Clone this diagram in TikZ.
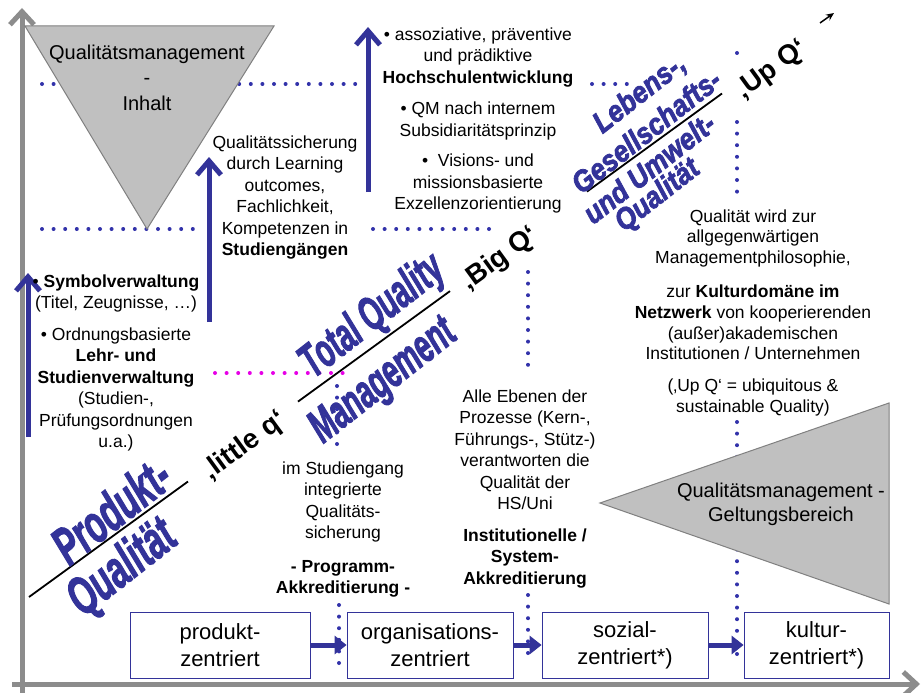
\documentclass[tikz,border=0pt]{standalone}
\usepackage{fontspec}
\usepackage{graphicx}
\setmainfont{Liberation Sans}
\newfontfamily\heavyfont{Liberation Sans Bold Italic}[FakeBold=2.5]
\usetikzlibrary{arrows.meta}
\definecolor{qblue}{RGB}{51,51,153}
\definecolor{dotblue}{RGB}{50,50,170}
\definecolor{axgray}{RGB}{140,140,140}
\definecolor{trigray}{RGB}{192,192,192}
\definecolor{trigrayd}{RGB}{128,128,128}
\definecolor{mag}{RGB}{230,0,230}
\begin{document}
\begin{tikzpicture}[x=1pt,y=-1pt,
  body/.style={align=center, anchor=north, inner sep=0pt, font=\fontsize{17.5}{21.5}\selectfont},
  bodyf/.style={align=center, anchor=north, inner sep=0pt, font=\fontsize{17.5}{20.8}\selectfont},
  tritext/.style={align=center, anchor=north, inner sep=0pt, font=\fontsize{20}{25.5}\selectfont},
  boxnode/.style={draw=qblue, line width=0.8pt, minimum height=66pt, inner sep=0pt, align=center, font=\fontsize{22}{27}\selectfont},
  dotline/.style={dotblue, line width=4pt, line cap=round, dash pattern=on 0pt off 11.6pt},
  uparrow/.style={qblue, line width=5pt, -{Straight Barb[length=14pt,width=24pt]}},
  axis/.style={axgray, line width=5pt, -{Straight Barb[length=13pt,width=24pt]}},
  boxarrow/.style={qblue, line width=5pt, -{Triangle[length=12pt,width=18pt]}},
  tri/.style={fill=trigray, draw=trigrayd, line width=1pt},
  diag/.style={black, line width=1.8pt},
  qlabel/.style={rotate=36, inner sep=0pt, font=\fontsize{27.5}{27.5}\selectfont\bfseries},
  bigq/.style={rotate=38, inner sep=0pt, text=qblue},
]
\useasboundingbox[fill=white] (0,0) rectangle (921,693);

% dotted guide lines
\draw[dotline] (42,84) -- (362,84);
\draw[dotline] (592,84) -- (628,84);
\draw[dotline] (42,229) -- (200,229);
\draw[dotline] (373,229) -- (495,229);
\fill[dotblue] (737,53) circle (2pt);
\draw[dotline] (737,122) -- (737,193);
\draw[dotline] (528,272) -- (528,375);
\draw[dotline] (528,595) -- (528,663);
\draw[dotline] (339,605) -- (339,663);
\draw[dotline] (737,422) -- (737,663);
\draw[dotline] (337,386) -- (337,445);
\draw[dotline, mag] (215,373) -- (343,373);

% axes
\coordinate (vb) at (22,693);
\coordinate (vt) at (22,8);
\coordinate (hl) at (12,684);
\coordinate (hr) at (920,684);
\draw[axis] (vb) -- (vt);
\draw[axis] (hl) -- (hr);

% triangles
\draw[tri] (25,26) -- (274,26) -- (147,229) -- cycle;
\draw[tri] (889,403) -- (889,604) -- (600,503) -- cycle;
\node[tritext] (tinhalt) at (147,41) {\strut Qualitätsmanagement\\-\\Inhalt};
\node[tritext, font=\fontsize{20}{24}\selectfont] (tgelt) at (781,480.2) {\strut Qualitätsmanagement -\\Geltungsbereich};

% vertical arrows
\coordinate (a1b) at (28,437);
\coordinate (a1t) at (28,273);
\coordinate (a2b) at (209,322);
\coordinate (a2t) at (209,157);
\coordinate (a3b) at (368,192);
\coordinate (a3t) at (368,27);
\draw[uparrow] (a1b) -- (a1t);
\draw[uparrow] (a2b) -- (a2t);
\draw[uparrow] (a3b) -- (a3t);

% text blocks
\node[body] (ta) at (478,25) {\strut• assoziative, präventive\\und prädiktive\\\textbf{Hochschulentwicklung}\\[10pt]• QM nach internem\\Subsidiaritätsprinzip\\[9pt]•\ \ Visions- und\\missionsbasierte\\Exzellenzorientierung};
\node[body] (tb) at (285,133) {\strut Qualitätssicherung\\durch Learning\\outcomes,\\Fachlichkeit,\\Kompetenzen in\\\textbf{Studiengängen}};
\node[body] (tc) at (116,272) {\strut• \textbf{Symbolverwaltung}\\(Titel, Zeugnisse, …)\\[10pt]• Ordnungsbasierte\\\textbf{Lehr- und}\\\textbf{Studienverwaltung}\\(Studien-,\\Prüfungsordnungen\\u.a.)};
\node[body] (td) at (343,459) {\strut im Studiengang\\integrierte\\Qualitäts-\\sicherung\\[12pt]\textbf{- Programm-}\\\textbf{Akkreditierung -}};
\node[body] (te) at (525,387) {\strut Alle Ebenen der\\Prozesse (Kern-,\\Führungs-, Stütz-)\\verantworten die\\Qualität der\\HS/Uni\\[10pt]\textbf{Institutionelle /}\\\textbf{System-}\\\textbf{Akkreditierung}};
\node[bodyf] (tf) at (753,207.4) {\strut Qualität wird zur\\allgegenwärtigen\\Managementphilosophie,\\[13pt]zur \textbf{Kulturdomäne im}\\\textbf{Netzwerk} von kooperierenden\\(außer)akademischen\\Institutionen / Unternehmen\\[11pt](‚Up Q‘ = ubiquitous \&\\sustainable Quality)};

% boxes
\node[boxnode, minimum width=180pt] (b1) at (220,645) {produkt-\\zentriert};
\node[boxnode, minimum width=166pt] (b2) at (430,645) {organisations-\\zentriert};
\node[boxnode, minimum width=166pt] (b3) at (625,645) {sozial-\\zentriert*)};
\node[boxnode, minimum width=145pt] (b4) at (816.5,645) {kultur-\\zentriert*)};
\draw[boxarrow] (b1) -- (b2);
\draw[boxarrow] (b2) -- (b3);
\draw[boxarrow] (b3) -- (b4);

% diagonal
\coordinate (d1a) at (29,597);
\coordinate (d1b) at (188,481.5);
\coordinate (d2a) at (298,401.6);
\coordinate (d2b) at (450,291.1);
\coordinate (d3a) at (587,191.6);
\coordinate (d3b) at (722,93.5);
\coordinate (d4a) at (820,23);
\coordinate (d4b) at (834,13);
\draw[diag] (d1a) -- (d1b);
\draw[diag] (d2a) -- (d2b);
\draw[diag] (d3a) -- (d3b);
\draw[black, line width=1.5pt, -{Stealth[length=8pt,width=7pt]}] (d4a) -- (d4b);

\node[qlabel] (lq) at (245,446) {‚little q‘};
\node[qlabel] (bq) at (500,259) {‚Big Q‘};
\node[qlabel] (uq) at (772,70) {‚Up Q‘};

% big italic labels
\node[bigq] (pk) at (111,510) {\scalebox{0.62}[1]{\fontsize{53}{53}\heavyfont Produkt-}};
\node[bigq] (pq) at (123,569) {\scalebox{0.62}[1]{\fontsize{53}{53}\heavyfont Qualität}};
\node[bigq] (tq) at (373,317) {\scalebox{0.6}[1]{\fontsize{47}{47}\heavyfont Total Quality}};
\node[bigq] (tm) at (384,382) {\scalebox{0.6}[1]{\fontsize{47}{47}\heavyfont Management}};
\node[bigq] (l1) at (640,94) {\scalebox{0.88}[1]{\fontsize{30}{30}\heavyfont Lebens-,}};
\node[bigq] (l2) at (646,131) {\scalebox{0.88}[1]{\fontsize{30}{30}\heavyfont Gesellschafts-}};
\node[bigq] (l3) at (649,168) {\scalebox{0.88}[1]{\fontsize{30}{30}\heavyfont und Umwelt-}};
\node[bigq] (l4) at (658,196) {\scalebox{0.88}[1]{\fontsize{30}{30}\heavyfont Qualität}};
\end{tikzpicture}
\end{document}
